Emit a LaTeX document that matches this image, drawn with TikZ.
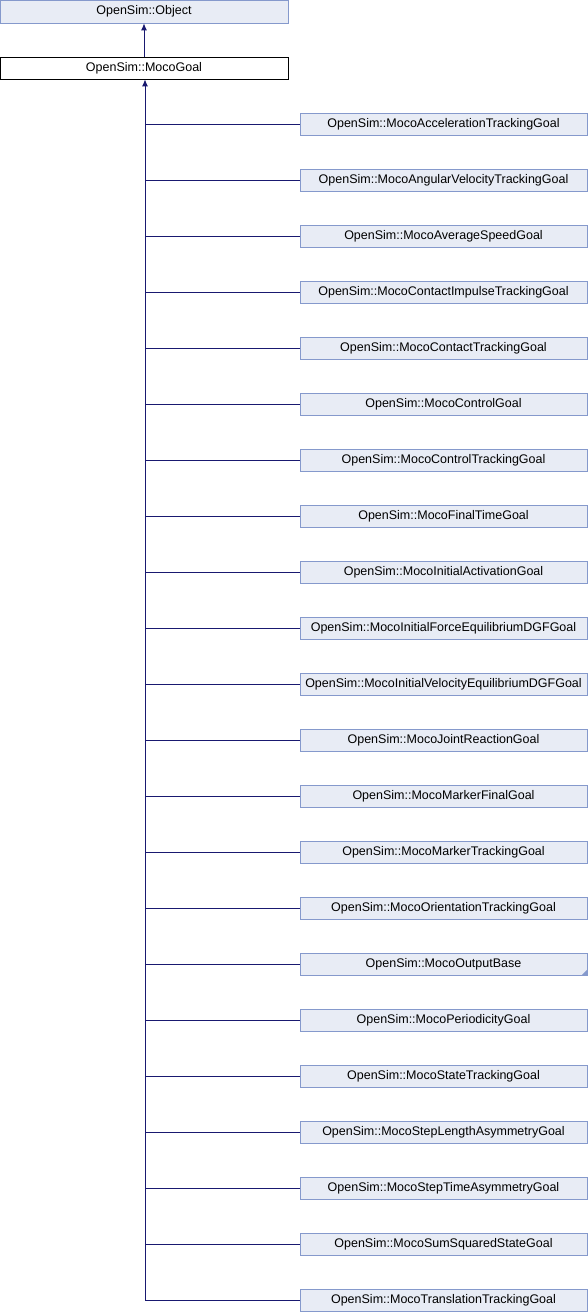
\documentclass[tikz,border=0pt]{standalone}
\usepackage{fontspec}
\setmainfont{Liberation Sans}
\usetikzlibrary{positioning,arrows.meta}
\definecolor{boxfill}{HTML}{E8ECF5}
\definecolor{boxline}{HTML}{8599CC}
\definecolor{edgeblue}{HTML}{191970}

\begin{document}
\begin{tikzpicture}[x=1pt, y=1pt, node distance=56pt,
    cls/.style={rectangle, draw=boxline, fill=boxfill, line width=0.8pt, minimum width=287pt, minimum height=22pt, inner sep=0pt, font=\fontsize{12.5}{14}\selectfont},
    edge/.style={draw=edgeblue, line width=0.9pt}]
    \useasboundingbox (0,0) rectangle (588,-1312);
    \node[cls, minimum width=288pt, minimum height=23pt] (object) at (144,-11.5) {OpenSim::Object};
    \node[cls, fill=white, draw=black, minimum width=288pt] (goal) at (144,-68) {OpenSim::MocoGoal};
    \draw[edge, -{Latex[length=7pt,width=6pt]}] (goal) -- (object);
    \node[cls] (c1) at (443.5,-124) {OpenSim::MocoAccelerationTrackingGoal};
    \foreach \txt [count=\i from 2, evaluate=\i as \j using int(\i-1)] in {
        OpenSim::MocoAngularVelocityTrackingGoal,
        OpenSim::MocoAverageSpeedGoal,
        OpenSim::MocoContactImpulseTrackingGoal,
        OpenSim::MocoContactTrackingGoal,
        OpenSim::MocoControlGoal,
        OpenSim::MocoControlTrackingGoal,
        OpenSim::MocoFinalTimeGoal,
        OpenSim::MocoInitialActivationGoal,
        OpenSim::MocoInitialForceEquilibriumDGFGoal,
        OpenSim::MocoInitialVelocityEquilibriumDGFGoal,
        OpenSim::MocoJointReactionGoal,
        OpenSim::MocoMarkerFinalGoal,
        OpenSim::MocoMarkerTrackingGoal,
        OpenSim::MocoOrientationTrackingGoal,
        OpenSim::MocoOutputBase,
        OpenSim::MocoPeriodicityGoal,
        OpenSim::MocoStateTrackingGoal,
        OpenSim::MocoStepLengthAsymmetryGoal,
        OpenSim::MocoStepTimeAsymmetryGoal,
        OpenSim::MocoSumSquaredStateGoal,
        OpenSim::MocoTranslationTrackingGoal}
        \node[cls, below of=c\j] (c\i) {\txt};
    % truncated class marker
    \fill[boxline] (c16.south east) -- ++(0,6) -- ++(-6,-6) -- cycle;
    % inheritance lines
    \foreach \i in {1,...,21}
        \draw[edge] (c\i.west) -- (c\i.west -| {145,0});
    \draw[edge, -{Latex[length=7pt,width=6pt]}] (c22.west) -| ([xshift=1pt]goal.south);
\end{tikzpicture}
\end{document}
